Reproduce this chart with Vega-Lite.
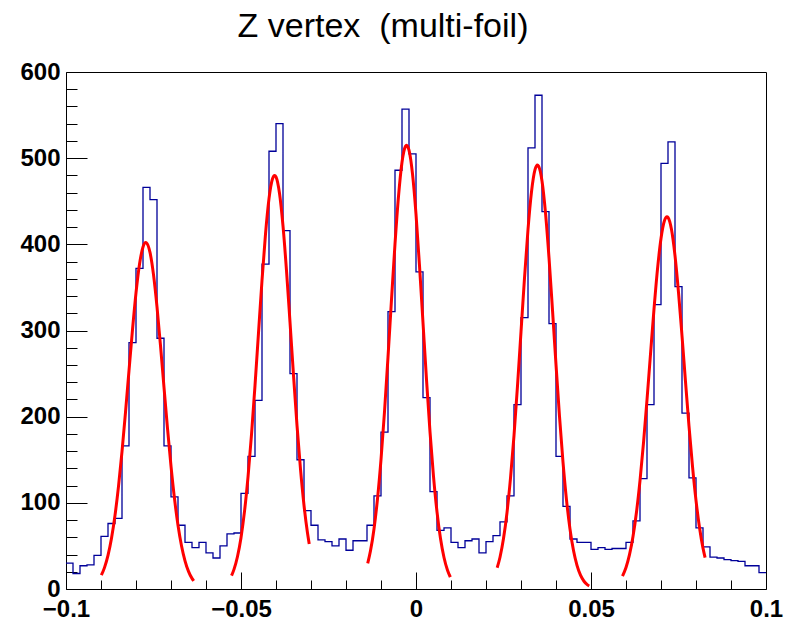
{
  "$schema": "https://vega.github.io/schema/vega-lite/v6.json",
  "width": 700,
  "height": 517,
  "autosize": "none",
  "padding": {"left": 66, "top": 72, "right": 29, "bottom": 33},
  "background": "white",
  "title": {"text": "Z vertex \u00a0(multi-foil)", "font": "Liberation Sans", "fontSize": 34, "fontWeight": "normal", "color": "black", "anchor": "middle", "dx": -33, "offset": -11, "baseline": "alphabetic"},
  "config": {
    "view": {"stroke": "black", "strokeWidth": 1},
    "axis": {"grid": false, "domain": false, "title": null, "labelFont": "Liberation Sans", "labelFontWeight": "bold", "labelFontSize": 24, "labelColor": "black", "tickColor": "black", "tickWidth": 1, "labelFlush": false, "labelOverlap": false}
  },
  "datasets": {
    "hist": [
      {"z": -0.100, "n": 30}, {"z": -0.098, "n": 18}, {"z": -0.096, "n": 27}, {"z": -0.094, "n": 28}, {"z": -0.092, "n": 39},
      {"z": -0.090, "n": 61}, {"z": -0.088, "n": 76}, {"z": -0.086, "n": 82}, {"z": -0.084, "n": 166}, {"z": -0.082, "n": 286},
      {"z": -0.080, "n": 372}, {"z": -0.078, "n": 466}, {"z": -0.076, "n": 452}, {"z": -0.074, "n": 291}, {"z": -0.072, "n": 166},
      {"z": -0.070, "n": 107}, {"z": -0.068, "n": 74}, {"z": -0.066, "n": 54}, {"z": -0.064, "n": 48}, {"z": -0.062, "n": 54},
      {"z": -0.060, "n": 42}, {"z": -0.058, "n": 36}, {"z": -0.056, "n": 50}, {"z": -0.054, "n": 64}, {"z": -0.052, "n": 65},
      {"z": -0.050, "n": 111}, {"z": -0.048, "n": 154}, {"z": -0.046, "n": 219}, {"z": -0.044, "n": 377}, {"z": -0.042, "n": 508},
      {"z": -0.040, "n": 540}, {"z": -0.038, "n": 416}, {"z": -0.036, "n": 250}, {"z": -0.034, "n": 150}, {"z": -0.032, "n": 91},
      {"z": -0.030, "n": 74}, {"z": -0.028, "n": 57}, {"z": -0.026, "n": 55}, {"z": -0.024, "n": 50}, {"z": -0.022, "n": 58},
      {"z": -0.020, "n": 45}, {"z": -0.018, "n": 56}, {"z": -0.016, "n": 56}, {"z": -0.014, "n": 74}, {"z": -0.012, "n": 108},
      {"z": -0.010, "n": 182}, {"z": -0.008, "n": 322}, {"z": -0.006, "n": 486}, {"z": -0.004, "n": 557}, {"z": -0.002, "n": 505},
      {"z": 0.000, "n": 368}, {"z": 0.002, "n": 222}, {"z": 0.004, "n": 113}, {"z": 0.006, "n": 68}, {"z": 0.008, "n": 71},
      {"z": 0.010, "n": 54}, {"z": 0.012, "n": 48}, {"z": 0.014, "n": 56}, {"z": 0.016, "n": 58}, {"z": 0.018, "n": 42},
      {"z": 0.020, "n": 55}, {"z": 0.022, "n": 62}, {"z": 0.024, "n": 78}, {"z": 0.026, "n": 108}, {"z": 0.028, "n": 214},
      {"z": 0.030, "n": 315}, {"z": 0.032, "n": 512}, {"z": 0.034, "n": 573}, {"z": 0.036, "n": 438}, {"z": 0.038, "n": 308},
      {"z": 0.040, "n": 154}, {"z": 0.042, "n": 96}, {"z": 0.044, "n": 58}, {"z": 0.046, "n": 54}, {"z": 0.048, "n": 54},
      {"z": 0.050, "n": 46}, {"z": 0.052, "n": 48}, {"z": 0.054, "n": 46}, {"z": 0.056, "n": 47}, {"z": 0.058, "n": 47},
      {"z": 0.060, "n": 54}, {"z": 0.062, "n": 79}, {"z": 0.064, "n": 128}, {"z": 0.066, "n": 214}, {"z": 0.068, "n": 330},
      {"z": 0.070, "n": 494}, {"z": 0.072, "n": 519}, {"z": 0.074, "n": 351}, {"z": 0.076, "n": 204}, {"z": 0.078, "n": 129},
      {"z": 0.080, "n": 71}, {"z": 0.082, "n": 49}, {"z": 0.084, "n": 37}, {"z": 0.086, "n": 36}, {"z": 0.088, "n": 34},
      {"z": 0.090, "n": 33}, {"z": 0.092, "n": 32}, {"z": 0.094, "n": 27}, {"z": 0.096, "n": 27}, {"z": 0.098, "n": 19},
      {"z": 0.100, "n": 19}
    ],
    "fit": [
      {"p": 1, "z": -0.0899, "f": 16.0}, {"p": 1, "z": -0.089, "f": 24.8}, {"p": 1, "z": -0.088, "f": 39.0}, {"p": 1, "z": -0.087, "f": 58.9},
      {"p": 1, "z": -0.086, "f": 85.4}, {"p": 1, "z": -0.085, "f": 119.1}, {"p": 1, "z": -0.084, "f": 159.4}, {"p": 1, "z": -0.083, "f": 205.1},
      {"p": 1, "z": -0.082, "f": 253.5}, {"p": 1, "z": -0.081, "f": 301.1}, {"p": 1, "z": -0.080, "f": 343.6}, {"p": 1, "z": -0.079, "f": 376.8},
      {"p": 1, "z": -0.078, "f": 396.9}, {"p": 1, "z": -0.0772, "f": 402.0}, {"p": 1, "z": -0.077, "f": 401.7}, {"p": 1, "z": -0.076, "f": 390.6},
      {"p": 1, "z": -0.075, "f": 364.9}, {"p": 1, "z": -0.074, "f": 327.5}, {"p": 1, "z": -0.073, "f": 282.5}, {"p": 1, "z": -0.072, "f": 234.1},
      {"p": 1, "z": -0.071, "f": 186.4}, {"p": 1, "z": -0.070, "f": 142.6}, {"p": 1, "z": -0.069, "f": 104.8}, {"p": 1, "z": -0.068, "f": 74.0},
      {"p": 1, "z": -0.067, "f": 50.2}, {"p": 1, "z": -0.066, "f": 32.7}, {"p": 1, "z": -0.065, "f": 20.5}, {"p": 1, "z": -0.064, "f": 12.3},
      {"p": 1, "z": -0.0635, "f": 9.4},
      {"p": 2, "z": -0.0527, "f": 15.6}, {"p": 2, "z": -0.052, "f": 22.8}, {"p": 2, "z": -0.051, "f": 37.7}, {"p": 2, "z": -0.050, "f": 59.6},
      {"p": 2, "z": -0.049, "f": 90.0}, {"p": 2, "z": -0.048, "f": 129.9}, {"p": 2, "z": -0.047, "f": 179.1}, {"p": 2, "z": -0.046, "f": 236.0},
      {"p": 2, "z": -0.045, "f": 297.3}, {"p": 2, "z": -0.044, "f": 358.0}, {"p": 2, "z": -0.043, "f": 411.9}, {"p": 2, "z": -0.042, "f": 453.0},
      {"p": 2, "z": -0.041, "f": 476.1}, {"p": 2, "z": -0.0404, "f": 480.0}, {"p": 2, "z": -0.040, "f": 478.3}, {"p": 2, "z": -0.039, "f": 459.2},
      {"p": 2, "z": -0.038, "f": 421.3}, {"p": 2, "z": -0.037, "f": 369.5}, {"p": 2, "z": -0.036, "f": 309.7}, {"p": 2, "z": -0.035, "f": 248.1},
      {"p": 2, "z": -0.034, "f": 189.9}, {"p": 2, "z": -0.033, "f": 139.0}, {"p": 2, "z": -0.032, "f": 97.2}, {"p": 2, "z": -0.031, "f": 65.0},
      {"p": 2, "z": -0.0305, "f": 52.2},
      {"p": 3, "z": -0.0138, "f": 29.8}, {"p": 3, "z": -0.013, "f": 44.3}, {"p": 3, "z": -0.012, "f": 69.7}, {"p": 3, "z": -0.011, "f": 104.7},
      {"p": 3, "z": -0.010, "f": 150.2}, {"p": 3, "z": -0.009, "f": 205.7}, {"p": 3, "z": -0.008, "f": 269.0}, {"p": 3, "z": -0.007, "f": 335.8},
      {"p": 3, "z": -0.006, "f": 400.4}, {"p": 3, "z": -0.005, "f": 455.7}, {"p": 3, "z": -0.004, "f": 495.3}, {"p": 3, "z": -0.003, "f": 513.9},
      {"p": 3, "z": -0.0027, "f": 515.0}, {"p": 3, "z": -0.002, "f": 509.2}, {"p": 3, "z": -0.001, "f": 481.7}, {"p": 3, "z": 0.000, "f": 435.1},
      {"p": 3, "z": 0.001, "f": 375.2}, {"p": 3, "z": 0.002, "f": 309.0}, {"p": 3, "z": 0.003, "f": 243.0}, {"p": 3, "z": 0.004, "f": 182.4},
      {"p": 3, "z": 0.005, "f": 130.8}, {"p": 3, "z": 0.006, "f": 89.5}, {"p": 3, "z": 0.007, "f": 58.5}, {"p": 3, "z": 0.008, "f": 36.5},
      {"p": 3, "z": 0.009, "f": 21.7}, {"p": 3, "z": 0.0098, "f": 13.9},
      {"p": 4, "z": 0.0232, "f": 24.7}, {"p": 4, "z": 0.024, "f": 36.9}, {"p": 4, "z": 0.025, "f": 58.5}, {"p": 4, "z": 0.026, "f": 88.7},
      {"p": 4, "z": 0.027, "f": 128.6}, {"p": 4, "z": 0.028, "f": 178.1}, {"p": 4, "z": 0.029, "f": 235.8}, {"p": 4, "z": 0.030, "f": 298.4},
      {"p": 4, "z": 0.031, "f": 360.9}, {"p": 4, "z": 0.032, "f": 417.2}, {"p": 4, "z": 0.033, "f": 460.9}, {"p": 4, "z": 0.034, "f": 486.6},
      {"p": 4, "z": 0.0347, "f": 492.0}, {"p": 4, "z": 0.035, "f": 491.0}, {"p": 4, "z": 0.036, "f": 473.6}, {"p": 4, "z": 0.037, "f": 436.5},
      {"p": 4, "z": 0.038, "f": 384.5}, {"p": 4, "z": 0.039, "f": 323.7}, {"p": 4, "z": 0.040, "f": 260.5}, {"p": 4, "z": 0.041, "f": 200.3},
      {"p": 4, "z": 0.042, "f": 147.3}, {"p": 4, "z": 0.043, "f": 103.5}, {"p": 4, "z": 0.044, "f": 69.5}, {"p": 4, "z": 0.045, "f": 44.6},
      {"p": 4, "z": 0.046, "f": 27.4}, {"p": 4, "z": 0.047, "f": 16.0}, {"p": 4, "z": 0.048, "f": 9.0}, {"p": 4, "z": 0.049, "f": 4.8},
      {"p": 4, "z": 0.0495, "f": 3.5},
      {"p": 5, "z": 0.059, "f": 15.0}, {"p": 5, "z": 0.060, "f": 25.0}, {"p": 5, "z": 0.061, "f": 39.8}, {"p": 5, "z": 0.062, "f": 60.9},
      {"p": 5, "z": 0.063, "f": 89.3}, {"p": 5, "z": 0.064, "f": 125.7}, {"p": 5, "z": 0.065, "f": 169.6}, {"p": 5, "z": 0.066, "f": 219.6},
      {"p": 5, "z": 0.067, "f": 272.7}, {"p": 5, "z": 0.068, "f": 324.8}, {"p": 5, "z": 0.069, "f": 371.2}, {"p": 5, "z": 0.070, "f": 406.8},
      {"p": 5, "z": 0.071, "f": 427.6}, {"p": 5, "z": 0.0717, "f": 432.0}, {"p": 5, "z": 0.072, "f": 431.2}, {"p": 5, "z": 0.073, "f": 417.1},
      {"p": 5, "z": 0.074, "f": 386.9}, {"p": 5, "z": 0.075, "f": 344.3}, {"p": 5, "z": 0.076, "f": 293.9}, {"p": 5, "z": 0.077, "f": 240.7},
      {"p": 5, "z": 0.078, "f": 189.0}, {"p": 5, "z": 0.079, "f": 142.4}, {"p": 5, "z": 0.080, "f": 102.9}, {"p": 5, "z": 0.081, "f": 71.3},
      {"p": 5, "z": 0.082, "f": 47.4}, {"p": 5, "z": 0.0826, "f": 36.4}
    ]
  },
  "resolve": {"axis": {"x": "independent", "y": "independent"}},
  "layer": [
    {
      "data": {"name": "hist"},
      "mark": {"type": "line", "interpolate": "step-after", "color": "#000099", "strokeWidth": 1.3},
      "encoding": {
        "x": {"field": "z", "type": "quantitative", "scale": {"domain": [-0.1, 0.1], "nice": false, "zero": false},
              "axis": {"orient": "bottom", "values": [-0.1, -0.05, 0, 0.05, 0.1], "format": "~g", "tickSize": -17, "labelPadding": 25}},
        "y": {"field": "n", "type": "quantitative", "scale": {"domain": [0, 600], "nice": false},
              "axis": {"orient": "left", "values": [0, 100, 200, 300, 400, 500, 600], "format": "d", "tickSize": -21, "labelPadding": 27}}
      }
    },
    {
      "data": {"name": "fit"},
      "mark": {"type": "line", "interpolate": "monotone", "color": "#ff0000", "strokeWidth": 3},
      "encoding": {
        "x": {"field": "z", "type": "quantitative",
              "axis": {"orient": "bottom", "values": [-0.09, -0.08, -0.07, -0.06, -0.04, -0.03, -0.02, -0.01, 0.01, 0.02, 0.03, 0.04, 0.06, 0.07, 0.08, 0.09], "labels": false, "tickSize": -9}},
        "y": {"field": "f", "type": "quantitative",
              "axis": {"orient": "left", "values": [20, 40, 60, 80, 120, 140, 160, 180, 220, 240, 260, 280, 320, 340, 360, 380, 420, 440, 460, 480, 520, 540, 560, 580], "labels": false, "tickSize": -11}},
        "detail": {"field": "p", "type": "nominal"}
      }
    }
  ]
}
